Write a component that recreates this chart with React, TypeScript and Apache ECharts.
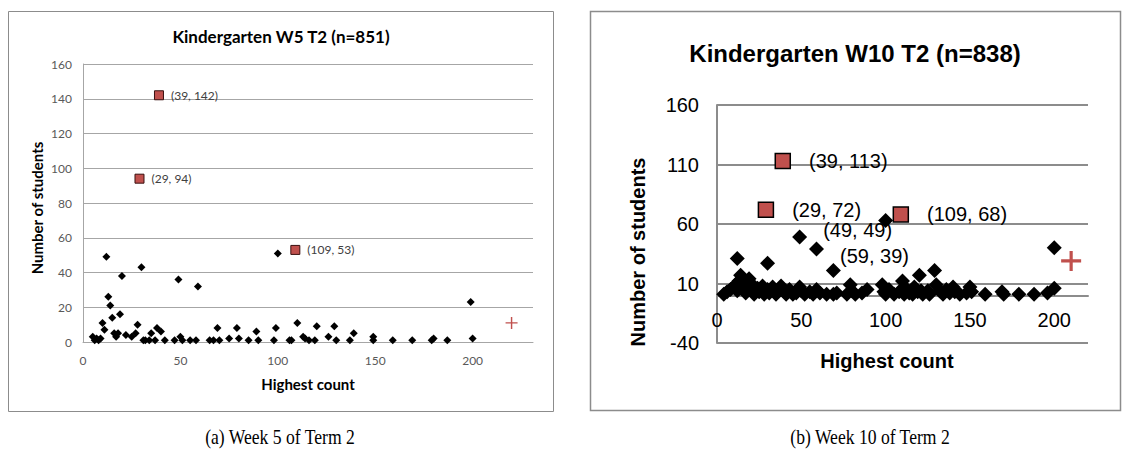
import React, { useEffect, useRef } from "react";
import * as echarts from "echarts";

// ---- Week 5 (left chart) ----
const w5Title = "Kindergarten W5 T2 (n=851)";
const w5Points: [number, number][] = [
  [5, 3], [6, 1], [7, 2], [8, 1], [9, 2], [10, 11], [11, 7], [12, 49], [13, 26], [14, 21],
  [15, 14], [16, 5], [17, 3], [18, 5], [19, 16], [20, 38], [22, 4], [25, 3], [27, 5], [28, 10],
  [30, 43], [31, 1], [32, 1], [34, 1], [35, 5], [37, 1], [38, 8], [40, 6], [42, 1], [47, 1],
  [49, 36], [50, 3], [51, 1], [55, 1], [58, 1], [59, 32], [65, 1], [67, 1], [69, 8], [70, 1],
  [75, 2], [79, 8], [80, 2], [85, 1], [89, 6], [90, 1], [98, 1], [99, 8], [100, 51], [106, 1],
  [107, 1], [110, 11], [113, 3], [114, 2], [116, 1], [119, 1], [120, 9], [126, 3], [129, 9], [130, 1],
  [137, 1], [139, 5], [149, 3], [149, 1], [159, 1], [169, 1], [179, 1], [180, 2], [187, 1], [199, 23],
  [200, 2],
];
const w5Highlights: [number, number][] = [[39, 142], [29, 94], [109, 53]];
const w5Reference: [number, number][] = [[220, 11]];
const w5XRange = { min: 0, max: 231, step: 50 };
const w5YRange = { min: 0, max: 160, step: 20 };

// ---- Week 10 (right chart) ----
const w10Title = "Kindergarten W10 T2 (n=838)";
const w10Points: [number, number][] = [
  [4, 1], [6, 3], [8, 5], [10, 7], [11, 9], [12, 31], [12, 4], [13, 12], [14, 17], [15, 13],
  [16, 7], [17, 2], [18, 10], [19, 14], [20, 5], [21, 9], [22, 1], [24, 6], [25, 3], [27, 8],
  [28, 1], [30, 27], [30, 5], [31, 2], [33, 7], [35, 1], [36, 4], [38, 8], [40, 3], [41, 1],
  [43, 5], [45, 1], [47, 2], [49, 7], [50, 4], [52, 1], [55, 3], [57, 1], [59, 5], [61, 2],
  [65, 1], [69, 21], [69, 1], [71, 2], [77, 1], [79, 9], [80, 4], [82, 1], [86, 2], [89, 5],
  [98, 9], [99, 3], [100, 63], [100, 1], [102, 5], [105, 1], [108, 3], [110, 12], [111, 1], [112, 6],
  [114, 2], [116, 1], [117, 7], [119, 3], [120, 17], [121, 4], [122, 1], [125, 4], [126, 1], [129, 21],
  [130, 9], [132, 4], [134, 1], [136, 5], [138, 2], [140, 7], [141, 3], [144, 1], [148, 2], [150, 7],
  [151, 3], [159, 1], [169, 3], [170, 1], [179, 1], [188, 1], [196, 2], [200, 6], [200, 40],
];
const w10LabeledPoints: [number, number][] = [[49, 49], [59, 39]];
const w10Highlights: [number, number][] = [[39, 113], [29, 72], [109, 68]];
const w10Reference: [number, number][] = [[210, 29]];
const w10XRange = { min: 0, max: 220, step: 50 };
const w10YTickLabels = [-40, 10, 60, 110, 160];

const captions = ["(a) Week 5 of Term 2", "(b) Week 10 of Term 2"];

const RED = "#c0504d";
const plusThin = "path://M4.4,0H5.6V4.4H10V5.6H5.6V10H4.4V5.6H0V4.4H4.4Z";
const plusThick = "path://M4.2,0H5.8V4.2H10V5.8H5.8V10H4.2V5.8H0V4.2H4.2Z";
const pairLabel = (p: any) => `(${p.value[0]}, ${p.value[1]})`;

const CAL = "Lato, 'Open Sans', sans-serif";
const ARIAL = "'Liberation Sans', Arial, sans-serif";
const TIMES = "'Liberation Serif', 'Times New Roman', serif";

// right plot geometry (pixels)
const R_LEFT = 717;
const R_TOP = 105;
const R_WIDTH = 371;
const R_HEIGHT = 238;

function txt(
  x: number,
  y: number,
  text: string,
  font: string,
  rotation = 0,
  scaleX = 1,
  fill = "#000"
) {
  return {
    type: "text",
    x,
    y,
    rotation,
    scaleX,
    style: {
      text,
      font,
      fill,
      align: "center",
      verticalAlign: "middle",
      textAlign: "center",
      textVerticalAlign: "middle",
    },
    z: 10,
  };
}

export default function App() {
  const ref = useRef<HTMLDivElement>(null);
  useEffect(() => {
    if (!ref.current) return;
    const chart = echarts.init(ref.current, undefined, { renderer: "svg" });
    const leftGrid = "#a6a6a6";
    const rightGrid = "#8c8c8c";
    const yMin = w10YTickLabels[0];
    const yMax = w10YTickLabels[w10YTickLabels.length - 1];
    // height of the band above the value 0 (where the x axis crosses)
    const zeroBandHeight = (R_HEIGHT * yMax) / (yMax - yMin);
    chart.setOption({
      animation: false,
      backgroundColor: "#fff",
      grid: [
        { left: 83, top: 64, width: 450, height: 278 },
        { left: R_LEFT, top: R_TOP, width: R_WIDTH, height: R_HEIGHT },
        { left: R_LEFT, top: R_TOP, width: R_WIDTH, height: zeroBandHeight },
      ],
      xAxis: [
        {
          gridIndex: 0,
          type: "value",
          min: w5XRange.min,
          max: w5XRange.max,
          interval: w5XRange.step,
          axisLine: { show: true, lineStyle: { color: leftGrid } },
          axisTick: { show: false },
          splitLine: { show: false },
          axisLabel: { showMaxLabel: false, fontFamily: CAL, fontSize: 12, color: "#595959", margin: 12 },
        },
        {
          gridIndex: 1,
          type: "value",
          min: w10XRange.min,
          max: w10XRange.max,
          show: false,
          splitLine: { show: false },
        },
        {
          gridIndex: 2,
          type: "value",
          min: w10XRange.min,
          max: w10XRange.max,
          interval: w10XRange.step,
          axisLine: { show: true, onZero: false, lineStyle: { color: rightGrid, width: 2 } },
          axisTick: { show: false },
          splitLine: { show: false },
          axisLabel: { showMaxLabel: false, fontFamily: ARIAL, fontSize: 20, color: "#000", margin: 15 },
        },
      ],
      yAxis: [
        {
          gridIndex: 0,
          type: "value",
          min: w5YRange.min,
          max: w5YRange.max,
          interval: w5YRange.step,
          axisLine: { show: true, lineStyle: { color: leftGrid } },
          axisTick: { show: false },
          splitLine: { show: true, lineStyle: { color: leftGrid } },
          axisLabel: { fontFamily: CAL, fontSize: 12, color: "#595959", margin: 11 },
        },
        {
          gridIndex: 1,
          type: "value",
          position: "left",
          min: yMin,
          max: yMax,
          show: false,
          splitLine: { show: false },
        },
        {
          gridIndex: 1,
          type: "value",
          position: "left",
          min: 0,
          max: 200,
          interval: 50,
          axisLine: { show: true, onZero: false, lineStyle: { color: rightGrid, width: 2 } },
          axisTick: { show: false },
          splitLine: { show: true, lineStyle: { color: rightGrid, width: 2 } },
          axisLabel: {
            fontFamily: ARIAL,
            fontSize: 20,
            color: "#000",
            margin: 18,
            formatter: (v: number) => String(w10YTickLabels[Math.round(v / 50)]),
          },
        },
        {
          gridIndex: 2,
          type: "value",
          min: 0,
          max: 1,
          show: false,
          splitLine: { show: false },
        },
      ],
      series: [
        {
          type: "scatter",
          xAxisIndex: 0,
          yAxisIndex: 0,
          data: w5Points,
          symbol: "diamond",
          symbolSize: 8,
          itemStyle: { color: "#000", opacity: 1 },
        },
        {
          type: "scatter",
          xAxisIndex: 0,
          yAxisIndex: 0,
          data: w5Highlights,
          symbol: "rect",
          symbolSize: 9,
          itemStyle: { color: RED, borderColor: "#3a1010", borderWidth: 1, opacity: 1 },
          label: {
            show: true,
            position: "right",
            distance: 7,
            formatter: pairLabel,
            fontFamily: CAL,
            fontSize: 12,
            color: "#404040",
          },
          z: 3,
        },
        {
          type: "scatter",
          xAxisIndex: 0,
          yAxisIndex: 0,
          data: w5Reference,
          symbol: plusThin,
          symbolSize: 12,
          itemStyle: { color: RED, opacity: 1 },
        },
        {
          type: "scatter",
          xAxisIndex: 1,
          yAxisIndex: 1,
          data: w10Points,
          symbol: "diamond",
          symbolSize: 15,
          itemStyle: { color: "#000", opacity: 1 },
          z: 4,
        },
        {
          type: "scatter",
          xAxisIndex: 1,
          yAxisIndex: 1,
          data: w10LabeledPoints.map((d, i) => ({
            value: d,
            label: { offset: [0, i === 0 ? -7 : 7] },
          })),
          symbol: "diamond",
          symbolSize: 15,
          itemStyle: { color: "#000", opacity: 1 },
          label: {
            show: true,
            position: "right",
            distance: 16,
            formatter: pairLabel,
            fontFamily: ARIAL,
            fontSize: 20,
            color: "#000",
          },
          z: 4,
        },
        {
          type: "scatter",
          xAxisIndex: 1,
          yAxisIndex: 1,
          data: w10Highlights,
          symbol: "rect",
          symbolSize: 15,
          itemStyle: { color: RED, borderColor: "#000", borderWidth: 1.5, opacity: 1 },
          label: {
            show: true,
            position: "right",
            distance: 18,
            formatter: pairLabel,
            fontFamily: ARIAL,
            fontSize: 20,
            color: "#000",
          },
          z: 5,
        },
        {
          type: "scatter",
          xAxisIndex: 1,
          yAxisIndex: 1,
          data: w10Reference,
          symbol: plusThick,
          symbolSize: 20,
          itemStyle: { color: RED, opacity: 1 },
          z: 4,
        },
      ],
      graphic: [
        {
          type: "rect",
          shape: { x: 8.5, y: 11.5, width: 545, height: 400 },
          style: { fill: "none", stroke: "#8c8c8c", lineWidth: 1 },
          z: 1,
        },
        {
          type: "rect",
          shape: { x: 590.5, y: 11.5, width: 530, height: 399 },
          style: { fill: "none", stroke: "#8c8c8c", lineWidth: 1.5 },
          z: 1,
        },
        txt(281, 36, w5Title, `bold 17px ${CAL}`),
        txt(37, 208, "Number of students", `bold 15px ${CAL}`, Math.PI / 2),
        txt(308, 384, "Highest count", `bold 15px ${CAL}`),
        txt(855, 53, w10Title, `bold 24px ${ARIAL}`),
        txt(638, 252, "Number of students", `bold 20px ${ARIAL}`, Math.PI / 2),
        txt(887, 361, "Highest count", `bold 20px ${ARIAL}`),
        txt(280, 437, captions[0], `20px ${TIMES}`, 0, 0.88),
        txt(870, 437, captions[1], `20px ${TIMES}`, 0, 0.88),
      ],
    });
    return () => chart.dispose();
  }, []);
  return (
    <div
      ref={ref}
      style={{ position: "fixed", left: 0, top: 0, width: 1128, height: 454, background: "#fff" }}
    />
  );
}
